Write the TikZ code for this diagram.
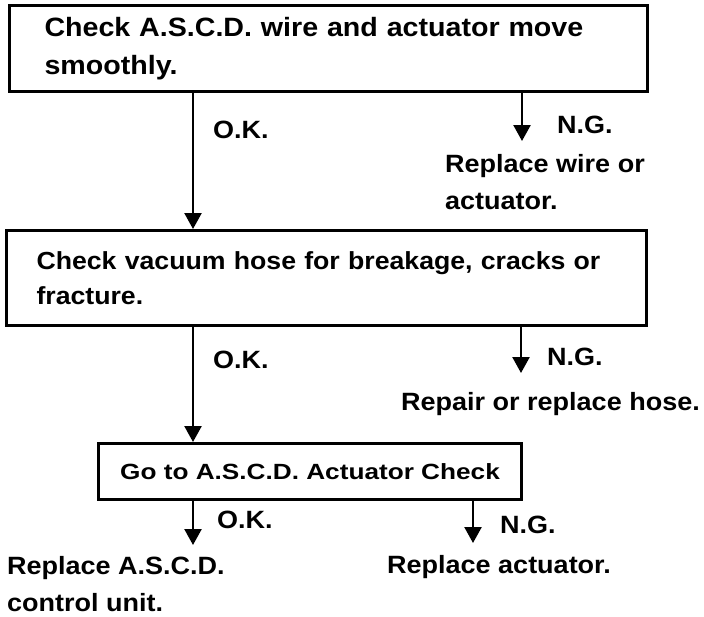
\documentclass[tikz,border=0pt]{standalone}
\usepackage{fontspec}
\setmainfont[FakeStretch=1.08]{Liberation Sans}
\newfontfamily\widesans[FakeStretch=1.19]{Liberation Sans}
\usetikzlibrary{arrows.meta}

\tikzset{
  chkbox/.style={draw,line width=3pt,anchor=north west,align=left},
  lbl/.style={anchor=base west,inner sep=0pt,font=\fontsize{25}{37}\selectfont\bfseries},
  arr/.style={line width=2.4pt,-{Triangle[length=16pt,width=17pt]}}
}

\begin{document}
\begin{tikzpicture}[x=1pt,y=-1pt]
\useasboundingbox (0,0) rectangle (704,616);
\node[chkbox,minimum width=638,minimum height=86,inner xsep=35,text width=568,
  font=\fontsize{26.5}{38}\selectfont\bfseries] (chk1) at (8,4)
  {Check A.S.C.D. wire and actuator move\\smoothly.};
\node[chkbox,minimum width=640,minimum height=95,inner xsep=30,text width=580,
  font=\fontsize{24.7}{35}\selectfont\bfseries] (chk2) at (5,229)
  {Check vacuum hose for breakage, cracks or\\fracture.};
\node[chkbox,minimum width=423,minimum height=56,align=center,
  font=\widesans\fontsize{22}{30}\selectfont\bfseries] (chk3) at (97,442)
  {Go to A.S.C.D. Actuator Check};
\coordinate (colok) at (193,0);
\coordinate (colng1) at (522,0);
\coordinate (colng2) at (521,0);
\coordinate (colng3) at (473,0);
\coordinate (ng1end) at (522,141);
\coordinate (ng2end) at (521,373);
\coordinate (ok3end) at (193,545);
\coordinate (ng3end) at (473,543);
\node[lbl] (ok1) at (213,138) {O.K.};
\node[lbl] (ng1) at (557,133) {N.G.};
\node[lbl,align=left] (rep1) at (445,209) {Replace wire or\\actuator.};
\node[lbl] (ok2) at (213,368) {O.K.};
\node[lbl] (ng2) at (547,365) {N.G.};
\node[lbl] (rep2) at (401,410) {Repair or replace hose.};
\node[lbl] (ok3) at (217,528) {O.K.};
\node[lbl] (ng3) at (500,533) {N.G.};
\node[lbl,anchor=north west,align=left] (rep3) at (7,556) {Replace A.S.C.D.\\control unit.};
\node[lbl] (rep4) at (387,573) {Replace actuator.};
\draw[arr] (chk1.south -| colok) -- (chk2.north -| colok);
\draw[arr] (chk1.south -| colng1) -- (ng1end);
\draw[arr] (chk2.south -| colok) -- (chk3.north -| colok);
\draw[arr] (chk2.south -| colng2) -- (ng2end);
\draw[arr] (chk3.south -| colok) -- (ok3end);
\draw[arr] (chk3.south -| colng3) -- (ng3end);
\end{tikzpicture}
\end{document}
